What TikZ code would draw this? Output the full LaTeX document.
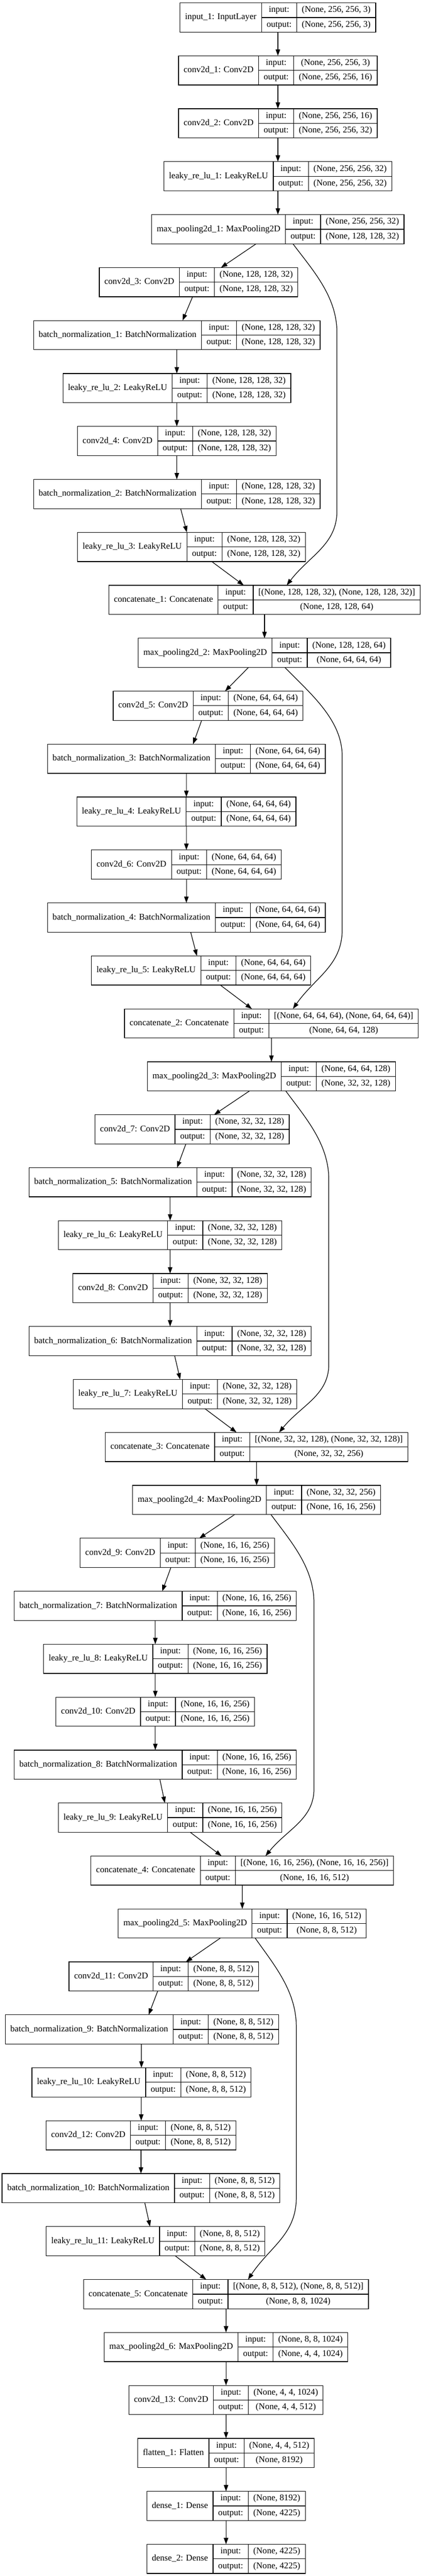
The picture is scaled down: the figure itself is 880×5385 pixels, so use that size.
\documentclass[tikz,border=0pt]{standalone}
\usepackage{fontspec}
\setmainfont{Liberation Serif}
\usetikzlibrary{arrows.meta,calc}
\newlength\recLa \newlength\recLb \newlength\recLc \newlength\recLd
\newcommand\recfont{\fontsize{13.8}{16}\selectfont}
\tikzset{
  recline/.style={draw=black, line width=1pt},
  recbox/.style={recline, inner sep=0pt, outer sep=0pt, anchor=north west},
  rectext/.style={font=\recfont, inner sep=0pt, text height=9.6pt, text depth=3pt, anchor=center},
  conn/.style={draw=black, line width=1pt, -{Triangle[length=10pt,width=7pt]}}
}
% #1 name, #2 centre x (px), #3 row index, #4 label, #5 input, #6 output
\newcommand\rec[6]{%
  \pgfinterruptpicture
    \settowidth\recLa{\recfont #4}\global\recLa=\recLa
    \settowidth\recLb{\recfont output:}\global\recLb=\recLb
    \settowidth\recLc{\recfont #5}%
    \settowidth\recLd{\recfont #6}%
    \ifdim\recLd>\recLc \recLc=\recLd\fi
    \global\recLc=\recLc
  \endpgfinterruptpicture
  \pgfmathsetmacro\recwA{(\recLa+16)/0.75}%
  \pgfmathsetmacro\recwB{(\recLb+16)/0.75}%
  \pgfmathsetmacro\recwC{(\recLc+16)/0.75}%
  \pgfmathsetmacro\recwT{\recwA+\recwB+\recwC}%
  \pgfmathsetmacro\recxl{#2-\recwT/2}%
  \pgfmathsetmacro\recyt{6+110.68*#3}%
  \expandafter\xdef\csname cx@#1\endcsname{#2}%
  \node[recbox, minimum width={\recwT*0.75pt}, minimum height=45.75pt] (#1) at (\recxl,\recyt) {};
  \draw[recline] (\recxl+\recwA,\recyt) -- (\recxl+\recwA,\recyt+61);
  \draw[recline] (\recxl+\recwA+\recwB,\recyt) -- (\recxl+\recwA+\recwB,\recyt+61);
  \draw[recline] (\recxl+\recwA,\recyt+30.5) -- (\recxl+\recwT,\recyt+30.5);
  \node[rectext] (#1-l) at (\recxl+\recwA/2,\recyt+30.5) {#4};
  \node[rectext] (#1-ik) at (\recxl+\recwA+\recwB/2,\recyt+15.25) {input:};
  \node[rectext] (#1-ok) at (\recxl+\recwA+\recwB/2,\recyt+45.75) {output:};
  \node[rectext] (#1-iv) at (\recxl+\recwA+\recwB+\recwC/2,\recyt+15.25) {#5};
  \node[rectext] (#1-ov) at (\recxl+\recwA+\recwB+\recwC/2,\recyt+45.75) {#6};
}
\newcommand\edge[4]{%
  \draw[conn] ([xshift={(#2-\csname cx@#1\endcsname)*0.75pt}]#1.south) -- ([xshift={(#4-\csname cx@#3\endcsname)*0.75pt}]#3.north);}
% #1 src, #2 start x, #3 dst, #4 end x, #5 dx to vertical, #6 D, #7 H
\newcommand\skipedge[7]{%
  \coordinate (#1-ss) at ([xshift={(#2-\csname cx@#1\endcsname)*0.75pt}]#1.south);
  \coordinate (#3-se) at ([xshift={(#4-\csname cx@#3\endcsname)*0.75pt}]#3.north);
  \draw[conn] (#1-ss) .. controls ($(#1-ss)+(0.45*#5,55)$) and ($(#1-ss)+(#5,110)$) .. ($(#1-ss)+(#5,185)$)
     -- ($(#3-se)+(#6,-#7)$) .. controls ($(#3-se)+(#6,-0.55*#7)$) and ($(#3-se)+(0.45*#6,-0.4*#7)$) .. (#3-se);}
\begin{document}
\begin{tikzpicture}[x=0.75pt,y=-0.75pt]
\fill[white] (0,0) rectangle (880,5385);
\useasboundingbox (0,0) rectangle (880,5385);
\def\sA{(None, 256, 256, 32)}
\def\sB{(None, 128, 128, 32)}
\def\sC{(None, 64, 64, 64)}
\def\sD{(None, 32, 32, 128)}
\def\sE{(None, 16, 16, 256)}
\def\sF{(None, 8, 8, 512)}
\rec{in1}{581.5}{0}{input\_1: InputLayer}{(None, 256, 256, 3)}{(None, 256, 256, 3)}
\rec{conv1}{581.5}{1}{conv2d\_1: Conv2D}{(None, 256, 256, 3)}{(None, 256, 256, 16)}
\rec{conv2}{581.5}{2}{conv2d\_2: Conv2D}{(None, 256, 256, 16)}{\sA}
\rec{lr1}{581.5}{3}{leaky\_re\_lu\_1: LeakyReLU}{\sA}{\sA}
\rec{mp1}{581.5}{4}{max\_pooling2d\_1: MaxPooling2D}{\sA}{\sB}
\rec{conv3}{415.6}{5}{conv2d\_3: Conv2D}{\sB}{\sB}
\rec{bn1}{370}{6}{batch\_normalization\_1: BatchNormalization}{\sB}{\sB}
\rec{lr2}{370}{7}{leaky\_re\_lu\_2: LeakyReLU}{\sB}{\sB}
\rec{conv4}{370}{8}{conv2d\_4: Conv2D}{\sB}{\sB}
\rec{bn2}{370}{9}{batch\_normalization\_2: BatchNormalization}{\sB}{\sB}
\rec{lr3}{400.8}{10}{leaky\_re\_lu\_3: LeakyReLU}{\sB}{\sB}
\rec{cat1}{553.5}{11}{concatenate\_1: Concatenate}{[(None, 128, 128, 32), (None, 128, 128, 32)]}{(None, 128, 128, 64)}
\rec{mp2}{553.5}{12}{max\_pooling2d\_2: MaxPooling2D}{(None, 128, 128, 64)}{\sC}
\rec{conv5}{435.5}{13}{conv2d\_5: Conv2D}{\sC}{\sC}
\rec{bn3}{390}{14}{batch\_normalization\_3: BatchNormalization}{\sC}{\sC}
\rec{lr4}{390}{15}{leaky\_re\_lu\_4: LeakyReLU}{\sC}{\sC}
\rec{conv6}{390}{16}{conv2d\_6: Conv2D}{\sC}{\sC}
\rec{bn4}{390}{17}{batch\_normalization\_4: BatchNormalization}{\sC}{\sC}
\rec{lr5}{420.7}{18}{leaky\_re\_lu\_5: LeakyReLU}{\sC}{\sC}
\rec{cat2}{568}{19}{concatenate\_2: Concatenate}{[(None, 64, 64, 64), (None, 64, 64, 64)]}{(None, 64, 64, 128)}
\rec{mp3}{568}{20}{max\_pooling2d\_3: MaxPooling2D}{(None, 64, 64, 128)}{\sD}
\rec{conv7}{402}{21}{conv2d\_7: Conv2D}{\sD}{\sD}
\rec{bn5}{356}{22}{batch\_normalization\_5: BatchNormalization}{\sD}{\sD}
\rec{lr6}{356}{23}{leaky\_re\_lu\_6: LeakyReLU}{\sD}{\sD}
\rec{conv8}{356}{24}{conv2d\_8: Conv2D}{\sD}{\sD}
\rec{bn6}{356}{25}{batch\_normalization\_6: BatchNormalization}{\sD}{\sD}
\rec{lr7}{387}{26}{leaky\_re\_lu\_7: LeakyReLU}{\sD}{\sD}
\rec{cat3}{537}{27}{concatenate\_3: Concatenate}{[(None, 32, 32, 128), (None, 32, 32, 128)]}{(None, 32, 32, 256)}
\rec{mp4}{537}{28}{max\_pooling2d\_4: MaxPooling2D}{(None, 32, 32, 256)}{\sE}
\rec{conv9}{371}{29}{conv2d\_9: Conv2D}{\sE}{\sE}
\rec{bn7}{325}{30}{batch\_normalization\_7: BatchNormalization}{\sE}{\sE}
\rec{lr8}{325}{31}{leaky\_re\_lu\_8: LeakyReLU}{\sE}{\sE}
\rec{conv10}{325}{32}{conv2d\_10: Conv2D}{\sE}{\sE}
\rec{bn8}{325}{33}{batch\_normalization\_8: BatchNormalization}{\sE}{\sE}
\rec{lr9}{356}{34}{leaky\_re\_lu\_9: LeakyReLU}{\sE}{\sE}
\rec{cat4}{507}{35}{concatenate\_4: Concatenate}{[(None, 16, 16, 256), (None, 16, 16, 256)]}{(None, 16, 16, 512)}
\rec{mp5}{507}{36}{max\_pooling2d\_5: MaxPooling2D}{(None, 16, 16, 512)}{\sF}
\rec{conv11}{342.7}{37}{conv2d\_11: Conv2D}{\sF}{\sF}
\rec{bn9}{297}{38}{batch\_normalization\_9: BatchNormalization}{\sF}{\sF}
\rec{lr10}{296}{39}{leaky\_re\_lu\_10: LeakyReLU}{\sF}{\sF}
\rec{conv12}{295}{40}{conv2d\_12: Conv2D}{\sF}{\sF}
\rec{bn10}{295}{41}{batch\_normalization\_10: BatchNormalization}{\sF}{\sF}
\rec{lr11}{325.5}{42}{leaky\_re\_lu\_11: LeakyReLU}{\sF}{\sF}
\rec{cat5}{473}{43}{concatenate\_5: Concatenate}{[(None, 8, 8, 512), (None, 8, 8, 512)]}{(None, 8, 8, 1024)}
\rec{mp6}{473}{44}{max\_pooling2d\_6: MaxPooling2D}{(None, 8, 8, 1024)}{(None, 4, 4, 1024)}
\rec{conv13}{473}{45}{conv2d\_13: Conv2D}{(None, 4, 4, 1024)}{(None, 4, 4, 512)}
\rec{fl1}{473}{46}{flatten\_1: Flatten}{(None, 4, 4, 512)}{(None, 8192)}
\rec{de1}{473}{47}{dense\_1: Dense}{(None, 8192)}{(None, 4225)}
\rec{de2}{473}{48}{dense\_2: Dense}{(None, 4225)}{(None, 4225)}
% connectors
\edge{in1}{581.5}{conv1}{581.5}
\edge{conv1}{581.5}{conv2}{581.5}
\edge{conv2}{581.5}{lr1}{581.5}
\edge{lr1}{581.5}{mp1}{581.5}
\edge{mp1}{536}{conv3}{462.5}
\edge{conv3}{403}{bn1}{382}
\edge{bn1}{370}{lr2}{370}
\edge{lr2}{370}{conv4}{370}
\edge{conv4}{370}{bn2}{370}
\edge{bn2}{378}{lr3}{391}
\edge{lr3}{443}{cat1}{510}
\skipedge{mp1}{613}{cat1}{600}{92}{105}{154.5}
\edge{cat1}{553.5}{mp2}{553.5}
\edge{mp2}{520}{conv5}{471}
\edge{conv5}{422}{bn3}{404}
\edge{bn3}{390}{lr4}{390}
\edge{lr4}{390}{conv6}{390}
\edge{conv6}{390}{bn4}{390}
\edge{bn4}{399}{lr5}{412}
\edge{lr5}{461}{cat2}{527}
\skipedge{mp2}{596}{cat2}{613}{120}{103}{165}
\edge{cat2}{568}{mp3}{568}
\edge{mp3}{522}{conv7}{448}
\edge{conv7}{389}{bn5}{370.5}
\edge{bn5}{356}{lr6}{356}
\edge{lr6}{356}{conv8}{356}
\edge{conv8}{356}{bn6}{356}
\edge{bn6}{365.5}{lr7}{377}
\edge{lr7}{428.7}{cat3}{495}
\skipedge{mp3}{598}{cat3}{584}{90}{104}{142}
\edge{cat3}{537}{mp4}{537}
\edge{mp4}{491}{conv9}{417}
\edge{conv9}{357.6}{bn7}{339.5}
\edge{bn7}{325}{lr8}{325}
\edge{lr8}{325}{conv10}{325}
\edge{conv10}{325}{bn8}{325}
\edge{bn8}{334.5}{lr9}{345}
\edge{lr9}{398}{cat4}{463.6}
\skipedge{mp4}{567}{cat4}{555.6}{90}{101.4}{140}
\edge{cat4}{507}{mp5}{507}
\edge{mp5}{461}{conv11}{389}
\edge{conv11}{330}{bn9}{311}
\edge{bn9}{296}{lr10}{296}
\edge{lr10}{295.5}{conv12}{295.5}
\edge{conv12}{295}{bn10}{295}
\edge{bn10}{303}{lr11}{314}
\edge{lr11}{366.6}{cat5}{431.5}
\skipedge{mp5}{534}{cat5}{519}{86}{101}{171}
\edge{cat5}{473}{mp6}{473}
\edge{mp6}{473}{conv13}{473}
\edge{conv13}{473}{fl1}{473}
\edge{fl1}{473}{de1}{473}
\edge{de1}{473}{de2}{473}
\end{tikzpicture}
\end{document}
